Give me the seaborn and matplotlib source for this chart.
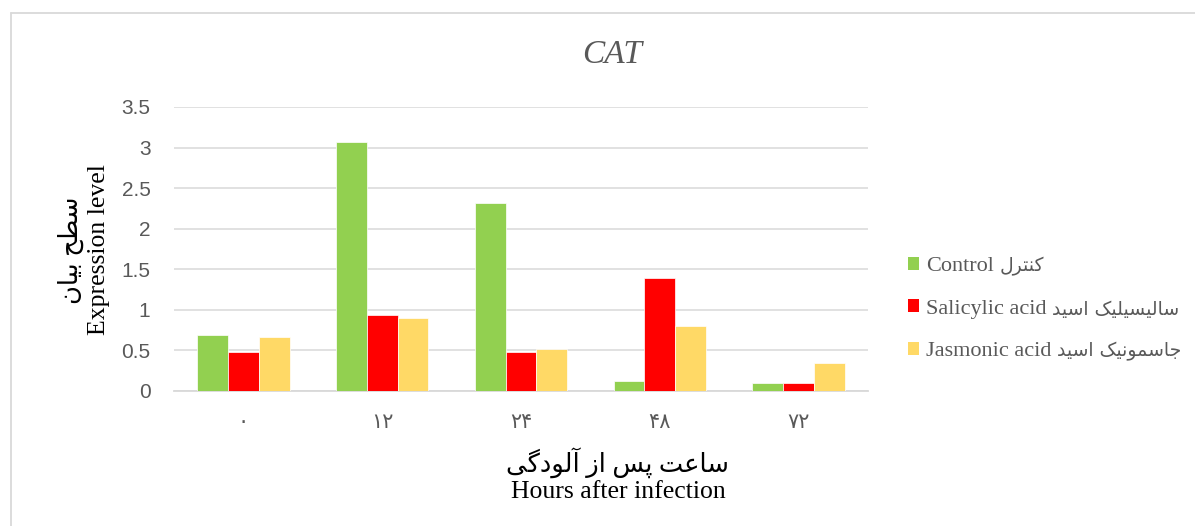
import matplotlib
matplotlib.use("Agg")
import matplotlib.pyplot as plt
import seaborn as sns
import pandas as pd
from matplotlib.patches import Rectangle
from matplotlib.lines import Line2D

# ---------------- data ----------------
hours = ["0", "12", "24", "48", "72"]
hour_labels = ["۰", "۱۲", "۲۴", "۴۸", "۷۲"]
control = [0.69, 3.07, 2.32, 0.12, 0.095]
salicylic = [0.48, 0.935, 0.48, 1.395, 0.095]
jasmonic = [0.66, 0.90, 0.515, 0.80, 0.35]
series_en = ["Control", "Salicylic acid", "Jasmonic acid"]
series_fa = ["کنترل", "سالیسیلیک اسید", "جاسمونیک اسید"]
colors = ["#92D050", "#FF0000", "#FFD966"]
title = "CAT"
ylabel_fa = "سطح بیان"
ylabel_en = "Expression level"
xlabel_fa = "ساعت پس از آلودگی"
xlabel_en = "Hours after infection"
yticks = [0, 0.5, 1, 1.5, 2, 2.5, 3, 3.5]

# ---------------- minimal Persian shaping (matplotlib has no bidi/shaping) ----------------
FORMS = {
    # letter: (isolated, final, initial, medial)  None -> right-joining only
    "ا": ("\uFE8D", "\uFE8E", None, None),
    "آ": ("\uFE81", "\uFE82", None, None),
    "د": ("\uFEA9", "\uFEAA", None, None),
    "ر": ("\uFEAD", "\uFEAE", None, None),
    "ز": ("\uFEAF", "\uFEB0", None, None),
    "و": ("\uFEED", "\uFEEE", None, None),
    "ب": ("\uFE8F", "\uFE90", "\uFE91", "\uFE92"),
    "پ": ("\uFB56", "\uFB57", "\uFB58", "\uFB59"),
    "ت": ("\uFE95", "\uFE96", "\uFE97", "\uFE98"),
    "ج": ("\uFE9D", "\uFE9E", "\uFE9F", "\uFEA0"),
    "ح": ("\uFEA1", "\uFEA2", "\uFEA3", "\uFEA4"),
    "س": ("\uFEB1", "\uFEB2", "\uFEB3", "\uFEB4"),
    "ط": ("\uFEC1", "\uFEC2", "\uFEC3", "\uFEC4"),
    "ع": ("\uFEC9", "\uFECA", "\uFECB", "\uFECC"),
    "ک": ("\uFB8E", "\uFB8F", "\uFB90", "\uFB91"),
    "گ": ("\uFB92", "\uFB93", "\uFB94", "\uFB95"),
    "ل": ("\uFEDD", "\uFEDE", "\uFEDF", "\uFEE0"),
    "م": ("\uFEE1", "\uFEE2", "\uFEE3", "\uFEE4"),
    "ن": ("\uFEE5", "\uFEE6", "\uFEE7", "\uFEE8"),
    "ی": ("\uFBFC", "\uFBFD", "\uFBFE", "\uFBFF"),
}


def dual(c):
    return c in FORMS and FORMS[c][2] is not None


def shape_fa(text):
    out = []
    n = len(text)
    for i, c in enumerate(text):
        if c not in FORMS:
            out.append(c)
            continue
        prev_join = i > 0 and dual(text[i - 1])
        next_join = dual(c) and i + 1 < n and text[i + 1] in FORMS
        iso, fin, ini, med = FORMS[c]
        if prev_join and next_join:
            out.append(med)
        elif prev_join:
            out.append(fin)
        elif next_join:
            out.append(ini)
        else:
            out.append(iso)
    return "".join(reversed(out))


# ---------------- data frame ----------------
rows = []
for h, c, s, j in zip(hours, control, salicylic, jasmonic):
    rows.append({"hour": h, "series": series_en[0], "value": c})
    rows.append({"hour": h, "series": series_en[1], "value": s})
    rows.append({"hour": h, "series": series_en[2], "value": j})
df = pd.DataFrame(rows)

sns.set_theme(style="white")
SERIF = ["Liberation Serif", "DejaVu Sans"]
plt.rcParams["font.family"] = SERIF

W, H = 1195, 526
fig = plt.figure(figsize=(W / 100, H / 100), dpi=100)
ax = fig.add_axes([174 / W, 1 - 391 / H, (868 - 174) / W, (391 - 107) / H])

# chart frame (top and left edges visible, continues past right/bottom)
fig.lines.append(Line2D([11 / W, 1.01], [1 - 13 / H, 1 - 13 / H], transform=fig.transFigure,
                        color="#D9D9D9", linewidth=1.3))
fig.lines.append(Line2D([11 / W, 11 / W], [1 - 13 / H, -0.01], transform=fig.transFigure,
                        color="#D9D9D9", linewidth=1.3))

sns.barplot(data=df, x="hour", y="value", hue="series", order=hours,
            hue_order=series_en, palette=colors, width=0.667, ax=ax,
            edgecolor="white", linewidth=0.5, saturation=1, legend=False,
            errorbar=None, zorder=3)

ax.set_ylim(0, 3.5)
ax.set_xlim(-0.5, 4.5)
ax.set_yticks(yticks)
ax.set_yticklabels([f"{v:g}" for v in yticks], fontsize=15, color="#595959",
                   family=["Liberation Sans", "DejaVu Sans"])
ax.set_xticks(range(len(hours)))
ax.set_xticklabels(hour_labels, fontsize=15, color="#595959", family=["DejaVu Sans"])
ax.tick_params(axis="both", length=0)
ax.tick_params(axis="y", pad=17)
ax.tick_params(axis="x", pad=15)
ax.grid(axis="y", color="#D9D9D9", linewidth=1.1, zorder=0)
ax.set_axisbelow(True)
for side in ["top", "right", "left"]:
    ax.spines[side].set_visible(False)
ax.spines["bottom"].set_color("#D9D9D9")
ax.spines["bottom"].set_linewidth(1.3)
ax.set_xlabel("")
ax.set_ylabel("")

fig.text(618 / W, 1 - 475 / H, shape_fa(xlabel_fa) + "\n" + xlabel_en, ha="center",
         va="center", fontsize=18.5, color="black", linespacing=1.15)
fig.text(84 / W, 1 - 250 / H, shape_fa(ylabel_fa) + "\n" + ylabel_en, ha="center",
         va="center", rotation=90, fontsize=18.5, color="black", linespacing=1.2)

fig.text(612 / W, 1 - 55 / H, title, ha="center", va="center",
         fontsize=24, style="italic", color="#595959", family=["Liberation Serif"])

# legend: Latin part inside the legend, Persian part appended to its right
handles = [Rectangle((0, 0), 1, 1, facecolor=c, edgecolor="none") for c in colors]
leg = fig.legend(handles, series_en, loc="center left",
                 bbox_to_anchor=(888 / W, 1 - 309 / H), frameon=False,
                 fontsize=16, handlelength=0.5, handleheight=0.5,
                 handletextpad=0.3, labelspacing=1.05, labelcolor="#595959")

fig.canvas.draw()
renderer = fig.canvas.get_renderer()
inv = fig.transFigure.inverted()
for txt, fa in zip(leg.get_texts(), series_fa):
    bb = txt.get_window_extent(renderer)
    x0, y0 = inv.transform((bb.x1 + 6, (bb.y0 + bb.y1) / 2))
    fig.text(x0, y0, shape_fa(fa), ha="left", va="center", fontsize=13.5,
             color="#595959", family=["DejaVu Sans"])

fig.savefig("out.png", dpi=100)
